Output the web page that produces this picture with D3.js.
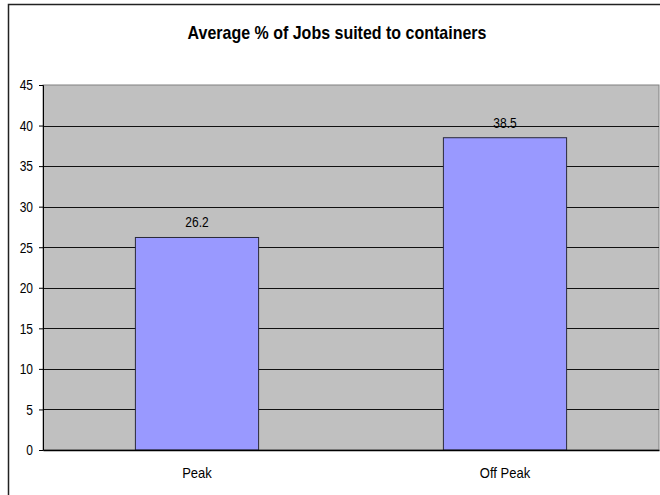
<!DOCTYPE html>
<html>
<head>
<meta charset="utf-8">
<script src="https://cdn.jsdelivr.net/npm/d3@7"></script>
<style>
  html, body { margin: 0; padding: 0; background: #fff; }
  svg { display: block; font-family: "Liberation Sans", Arial, sans-serif; }
</style>
</head>
<body>
<svg id="chart" width="660" height="495"></svg>
<script>
// Chart data
const categories = ["Peak", "Off Peak"];
const values = [26.2, 38.5];
const yTicks = [0, 5, 10, 15, 20, 25, 30, 35, 40, 45];
const title = "Average % of Jobs suited to containers";

// Text is drawn slightly taller than wide
const stretch = 1.15;

const svg = d3.select("#chart");

// Outer chart frame (runs past the right and bottom edges)
svg.append("rect")
  .attr("x", 8.5).attr("y", 4.5)
  .attr("width", 700).attr("height", 560)
  .attr("fill", "#fff").attr("stroke", "#222").attr("stroke-width", 1.5);

const plot = { left: 43, top: 85, right: 659, bottom: 450 };

const x = d3.scaleBand()
  .domain(categories)
  .range([plot.left, plot.right])
  .paddingInner(0.6).paddingOuter(0.3);

const y = d3.scaleLinear()
  .domain([0, 45])
  .range([plot.bottom, plot.top]);

// Plot area background
svg.append("rect")
  .attr("x", plot.left).attr("y", plot.top)
  .attr("width", plot.right - plot.left).attr("height", plot.bottom - plot.top)
  .attr("fill", "#c0c0c0").attr("stroke", "#808080").attr("stroke-width", 1);

// Gridlines
svg.append("g")
  .selectAll("line")
  .data(yTicks.filter(d => d > 0 && d < 45))
  .join("line")
  .attr("x1", plot.left).attr("x2", plot.right)
  .attr("y1", d => Math.round(y(d)) + 0.5).attr("y2", d => Math.round(y(d)) + 0.5)
  .attr("stroke", "#111").attr("stroke-width", 1);

// Bars
svg.append("g")
  .selectAll("rect")
  .data(values)
  .join("rect")
  .attr("x", (d, i) => x(categories[i]))
  .attr("y", d => y(d))
  .attr("width", x.bandwidth())
  .attr("height", d => plot.bottom - y(d))
  .attr("fill", "#9999ff")
  .attr("stroke", "#2a2a3a").attr("stroke-width", 1);

// Value labels
svg.append("g")
  .selectAll("text")
  .data(values)
  .join("text")
  .attr("transform", (d, i) =>
    `translate(${x(categories[i]) + x.bandwidth() / 2},${y(d) - 10}) scale(1,${stretch})`)
  .attr("text-anchor", "middle")
  .attr("font-size", 12)
  .attr("fill", "#000")
  .text(d => d.toFixed(1));

// Y axis
const yAxis = d3.axisLeft(y).tickValues(yTicks).tickSize(4).tickPadding(6);
const gy = svg.append("g")
  .attr("transform", `translate(${plot.left},0)`)
  .call(yAxis);
gy.select(".domain").attr("stroke", "#000");
gy.selectAll(".tick line").attr("stroke", "#000");
gy.selectAll(".tick text")
  .attr("font-size", 12).attr("fill", "#000")
  .attr("font-family", "'Liberation Sans', Arial, sans-serif")
  .attr("x", null).attr("dy", null)
  .attr("transform", `translate(-10,0) scale(1,${stretch}) translate(0,4.2)`);

// X axis
const xAxis = d3.axisBottom(x).tickSize(0).tickPadding(17);
const gx = svg.append("g")
  .attr("transform", `translate(0,${plot.bottom})`)
  .call(xAxis);
gx.select(".domain").attr("stroke", "#000").attr("stroke-width", 1.5);
gx.selectAll(".tick text")
  .attr("font-size", 13).attr("fill", "#000")
  .attr("font-family", "'Liberation Sans', Arial, sans-serif")
  .attr("y", null).attr("dy", null)
  .attr("transform", `translate(0,28) scale(1,1.1)`);

// Title
svg.append("text")
  .attr("transform", `translate(337,39) scale(1,${stretch})`)
  .attr("text-anchor", "middle")
  .attr("font-size", 16).attr("font-weight", "bold")
  .attr("fill", "#000")
  .text(title);
</script>
</body>
</html>
